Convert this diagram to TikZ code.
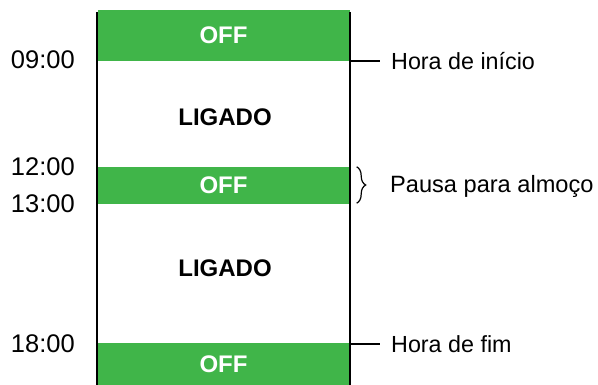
\documentclass[tikz,border=0pt]{standalone}
\usepackage{fontspec}
\setmainfont{Liberation Sans}
\usepackage{xcolor}
\usetikzlibrary{decorations.pathreplacing}
\definecolor{offgreen}{RGB}{64,181,73}

\tikzset{
  band/.style={fill=offgreen, text=white, font=\fontsize{24}{28}\selectfont\bfseries,
    minimum width=252pt, inner sep=0pt},
  onlabel/.style={font=\fontsize{24}{28}\selectfont\bfseries},
  timelabel/.style={anchor=east, inner sep=0pt, font=\fontsize{25.5}{30}\selectfont},
  notelabel/.style={anchor=west, inner xsep=11pt, inner ysep=0pt, font=\fontsize{23.3}{28}\selectfont},
  rail/.style={line width=2.8pt}
}

\begin{document}
\begin{tikzpicture}[x=1pt,y=-1pt]
\useasboundingbox (0,0) rectangle (598,385);

% faixas OFF
\node[band, minimum height=51pt] (off1) at (223.5,35.5) {OFF};
\node[band, minimum height=37pt] (off2) at (223.5,185.5) {OFF};
\node[band, minimum height=42pt] (off3) at (223.5,364) {OFF};

\node[onlabel] (on1) at (225,117) {LIGADO};
\node[onlabel] (on2) at (225,268) {LIGADO};

% bordas
\draw[rail] (97,12) -- (97,385);
\draw[rail] (350,12) -- (350,385);

% horas
\node[timelabel] (t9) at (75,60) {09:00};
\node[timelabel] (t12) at (75,167) {12:00};
\node[timelabel] (t13) at (75,204) {13:00};
\node[timelabel] (t18) at (75,344) {18:00};

% notas
\node[notelabel] (inicio) at (380,61) {Hora de início};
\node[notelabel, inner xsep=0pt, font=\fontsize{23.6}{28}\selectfont] (pausa) at (390,186) {Pausa para almoço};
\node[notelabel] (fim) at (380,344) {Hora de fim};

\draw[line width=1.1pt] (351,61) -- (inicio.west);
\draw[line width=1.1pt] (351,344) -- (fim.west);
\draw[line width=1.2pt, decorate, decoration={brace, amplitude=9pt}]
  ([xshift=7pt]off2.north east) -- ([xshift=7pt,yshift=1pt]off2.south east);
\end{tikzpicture}
\end{document}
